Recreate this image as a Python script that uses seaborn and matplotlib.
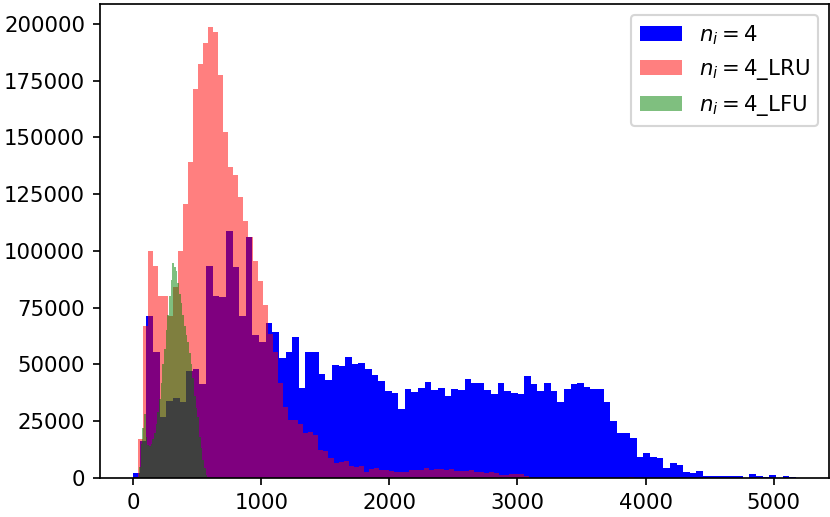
import numpy as np
import matplotlib
matplotlib.use("Agg")
import matplotlib.pyplot as plt
import seaborn as sns

# ---- data: histogram bin counts ----
# n_i = 4 (blue): 100 bins starting at 0
blue_counts = [
    2200, 16200, 71500, 55500, 27000, 33900, 35300, 33500, 47200, 48000,
    41200, 93500, 80100, 79800, 108900, 93000, 71400, 106000, 62900, 59700,
    68200, 64100, 52900, 55500, 62000, 39600, 55400, 55400, 45600, 43300,
    49900, 49500, 53100, 50000, 50700, 48100, 45300, 42900, 38100, 37600,
    30300, 39200, 37900, 39500, 42200, 38700, 39800, 36300, 39400, 38900,
    43400, 41700, 41700, 38800, 36800, 41700, 38200, 37600, 36900, 44700,
    41600, 38400, 41700, 38400, 33400, 39000, 41500, 42000, 40100, 39000,
    39200, 33400, 25000, 19600, 19800, 17600, 9400, 11200, 9400, 8600,
    4300, 6800, 5900, 2500, 2200, 2900, 1000, 800, 700, 800,
    700, 1000, 200, 1600, 1100, 600, 1200, 200, 900, 500,
]
# n_i = 4_LRU (red): 100 bins starting at 0
red_counts = [
    500, 17200, 66900, 100100, 93300, 80200, 80200, 71500, 84200, 100100,
    120600, 139300, 171200, 182200, 191500, 198800, 196600, 177600, 152300, 136800,
    133300, 123600, 113300, 106000, 95500, 86800, 76000, 63600, 55400, 41700,
    31300, 25700, 25400, 24000, 19600, 20300, 19100, 12500, 11800, 8800,
    6600, 7200, 7400, 5300, 4800, 5200, 2800, 4000, 4400, 3400,
    3400, 3300, 2500, 2500, 2500, 3400, 3400, 3400, 4300, 3600,
    3800, 3900, 3600, 4000, 2900, 2900, 2900, 3600, 2600, 2600,
    2200, 2500, 2000, 1500, 1500, 1800, 1800, 1800, 1100, 200,
    200, 150, 150, 100, 100, 100, 100, 100, 100, 100,
    100, 100, 100, 100, 100, 100, 100, 100, 100, 300,
]
# n_i = 4_LFU (green): narrow bins
green_counts = [
    500, 5000, 15000, 22000, 28000, 18000, 14500, 14000, 15000, 17000,
    20000, 24000, 29000, 35000, 42000, 50000, 57000, 65000, 72000, 80000,
    87000, 94500, 93000, 91000, 86000, 81000, 77000, 72000, 67000, 63000,
    60000, 55000, 50000, 44000, 36000, 31000, 27000, 18000, 13000, 8000,
    4500, 1500, 300,
]
labels = [r"$n_i=4$", r"$n_i=4$_LRU", r"$n_i=4$_LFU"]

# bin geometry (start, width) of each histogram
BLUE_BINS = (0.0, 51.73)
RED_BINS = (0.0, 39.1)
GREEN_BINS = (32.5, 13.0)

DPI = 153
fig = plt.figure(figsize=(830 / DPI, 517 / DPI), dpi=DPI)
ax = fig.add_axes([100 / 830, 39 / 517, 729 / 830, 474 / 517])


def draw(bins, counts, color, alpha, label):
    start, width = bins
    counts = np.asarray(counts, dtype=float)
    edges = start + width * np.arange(len(counts) + 1)
    centers = (edges[:-1] + edges[1:]) / 2
    sns.histplot(x=centers, weights=counts, bins=edges.tolist(), color=color,
                 alpha=alpha, linewidth=0, label=label, ax=ax)


draw(BLUE_BINS, blue_counts, "blue", 1.0, labels[0])
draw(RED_BINS, red_counts, "red", 0.5, labels[1])
draw(GREEN_BINS, green_counts, "green", 0.5, labels[2])

ax.set_xlabel("")
ax.set_ylabel("")
ax.legend(loc="upper right")

fig.savefig("out.png", dpi=DPI)
